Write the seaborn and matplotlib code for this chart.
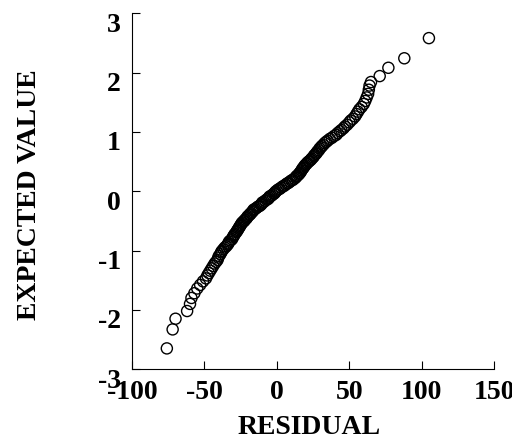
import numpy as np
import pandas as pd
import matplotlib
matplotlib.use("Agg")
import matplotlib.pyplot as plt
from matplotlib.transforms import ScaledTranslation
import seaborn as sns

#residuals (x) and their expected normal values (y)
residual = [
    -76, -72, -70, -62, -60, -59, -57, -55, -53, -51,
    -49, -48, -47, -46, -45, -44, -43, -42, -41, -40.5,
    -40, -39, -38.5, -38, -37, -36, -35, -34, -33.5, -33,
    -32, -31, -30.5, -30, -29.5, -29, -28, -27.5, -27, -26.5,
    -26, -25.5, -25, -24.5, -24, -23, -22.5, -22, -21, -20.5,
    -20, -19, -18.5, -18, -17, -16.5, -16, -15, -14, -13,
    -12, -11, -10.5, -10, -9, -8, -7, -6, -5.5, -5,
    -4, -3, -2, -1.5, -1,
    0, 1, 2, 3, 4, 5, 6, 7, 8, 9,
    10, 11, 12, 13, 13.5, 14, 15, 15.5, 16, 16.5,
    17, 17.5, 18, 18.5, 19, 19.5, 20.5, 21, 22, 22.5,
    23.5, 24, 25, 25.5, 26, 27, 27.5, 28, 29, 29.5,
    30.5, 31, 32, 33, 34, 35, 36.5, 38, 39.5, 41,
    42, 43.5, 44.5, 46, 47, 48.5, 50, 51, 52.5, 54,
    55, 56, 57, 58.5, 60, 61, 62, 63, 63.5, 64,
    65, 71, 77, 88, 105,
]
expected_value = [
    -2.65, -2.33, -2.15, -2.02, -1.90, -1.80, -1.72, -1.64, -1.58, -1.52,
    -1.47, -1.42, -1.38, -1.34, -1.30, -1.26, -1.22, -1.19, -1.16, -1.12,
    -1.09, -1.06, -1.03, -1.01, -0.98, -0.95, -0.93, -0.90, -0.88, -0.85,
    -0.83, -0.81, -0.78, -0.76, -0.74, -0.72, -0.69, -0.67, -0.65, -0.63,
    -0.61, -0.59, -0.57, -0.55, -0.53, -0.51, -0.50, -0.48, -0.46, -0.44,
    -0.42, -0.40, -0.39, -0.37, -0.35, -0.33, -0.31, -0.30, -0.28, -0.26,
    -0.25, -0.23, -0.21, -0.19, -0.18, -0.16, -0.14, -0.13, -0.11, -0.09,
    -0.08, -0.06, -0.04, -0.03, -0.01,
    0.01, 0.03, 0.04, 0.06, 0.08, 0.09, 0.11, 0.13, 0.14, 0.16,
    0.18, 0.19, 0.21, 0.23, 0.25, 0.26, 0.28, 0.30, 0.31, 0.33,
    0.35, 0.37, 0.39, 0.40, 0.42, 0.44, 0.46, 0.48, 0.50, 0.51,
    0.53, 0.55, 0.57, 0.59, 0.61, 0.63, 0.65, 0.67, 0.69, 0.72,
    0.74, 0.76, 0.78, 0.81, 0.83, 0.85, 0.88, 0.90, 0.93, 0.95,
    0.98, 1.01, 1.03, 1.06, 1.09, 1.12, 1.16, 1.19, 1.22, 1.26,
    1.30, 1.34, 1.38, 1.42, 1.47, 1.52, 1.58, 1.64, 1.71, 1.78,
    1.84, 1.94, 2.08, 2.24, 2.58,
]

x_ticks = [-100, -50, 0, 50, 100, 150]
y_ticks = [-3, -2, -1, 0, 1, 2, 3]

df = pd.DataFrame({"RESIDUAL": residual, "EXPECTED VALUE": expected_value})

sns.set_style("ticks")
plt.rcParams['font.family'] = ['Liberation Serif', 'DejaVu Serif']
plt.rcParams['font.weight'] = 'bold'
plt.rcParams['axes.unicode_minus'] = False
plt.rcParams['text.color'] = 'black'
plt.rcParams['axes.labelcolor'] = 'black'

fig = plt.figure(figsize=(5.12, 4.4), dpi=100)
ax = fig.add_axes([0.258, 0.161, 0.707, 0.809])

sns.scatterplot(data=df, x="RESIDUAL", y="EXPECTED VALUE", ax=ax,
                marker="o", s=64, facecolor="none", edgecolor="black", linewidth=1.0)

ax.set_xlim(-100, 150)
ax.set_ylim(-3, 3)
ax.set_xticks(x_ticks)
ax.set_yticks(y_ticks)
ax.tick_params(direction="in", length=6, width=0.8, labelsize=20, colors="black",
               labelcolor="black", pad=8)
for lab in ax.get_xticklabels() + ax.get_yticklabels():
    lab.set_fontweight("bold")
#the y tick labels sit a little below their ticks in the original
for lab in ax.get_yticklabels():
    lab.set_transform(lab.get_transform() + ScaledTranslation(0, -9/100, fig.dpi_scale_trans))

sns.despine(ax=ax)
for s in ["left", "bottom"]:
    ax.spines[s].set_linewidth(0.8)
    ax.spines[s].set_color("black")

ax.set_xlabel("RESIDUAL", fontsize=20, fontweight="bold", color="black")
ax.set_ylabel("EXPECTED VALUE", fontsize=20, fontweight="bold", color="black")
ax.xaxis.set_label_coords(0.489, -0.13)
ax.yaxis.set_label_coords(-0.25, 0.49)

fig.savefig("out.png", dpi=100)
